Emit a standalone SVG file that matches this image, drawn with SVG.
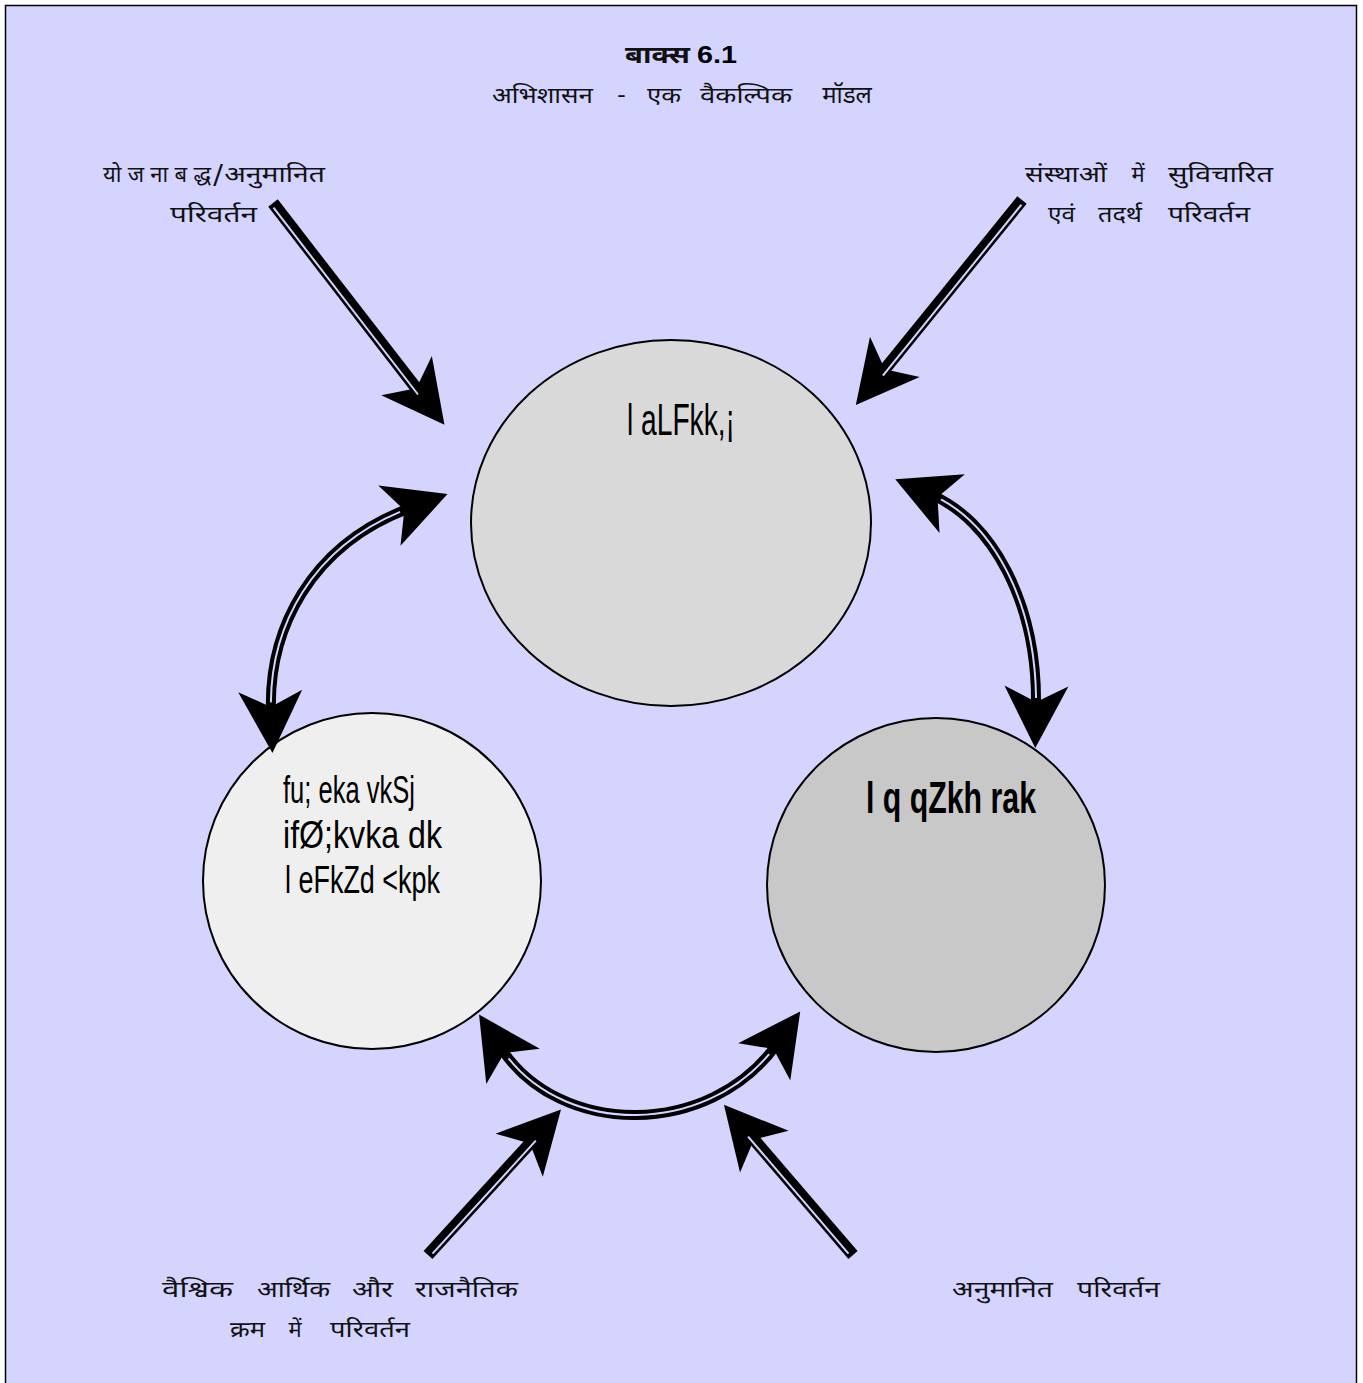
<svg xmlns="http://www.w3.org/2000/svg" width="1363" height="1383" viewBox="0 0 1363 1383">
<style>
.dev{font-family:"Noto Sans Devanagari","Noto Sans","Liberation Sans",sans-serif;font-size:22px;fill:#111;}
.kd{font-family:"Liberation Sans Narrow","Liberation Sans",sans-serif;fill:#000;}
.sh{fill:none;stroke:#000;stroke-width:12;}
.shc{fill:none;stroke:#000;stroke-width:10;}
.gap{fill:none;stroke:#D4D4FF;stroke-width:2;}
.node{stroke:#000;stroke-width:2;}
</style>
<defs>
<marker id="ah" markerUnits="userSpaceOnUse" orient="auto-start-reverse" refX="0" refY="0" markerWidth="10" markerHeight="10" overflow="visible">
<path d="M40,0 L-22,-32 L-6,0 L-22,32 Z" fill="#000"/>
</marker>
</defs>
<rect x="5.5" y="5.5" width="1351" height="1400" fill="#D4D4FF" stroke="#000" stroke-width="1.5"/>
<g id="title">
<text x="625" y="63" class="dev" style="font-size:24px;font-weight:bold" textLength="65" lengthAdjust="spacingAndGlyphs">बाक्स</text>
<text x="697" y="63" style="font-family:'Liberation Sans',sans-serif;font-size:23px;font-weight:bold" textLength="40" lengthAdjust="spacingAndGlyphs">6.1</text>
<g class="dev">
<text x="492" y="103" textLength="101" lengthAdjust="spacingAndGlyphs">अभिशासन</text>
<text x="617" y="103" textLength="9" lengthAdjust="spacingAndGlyphs">-</text>
<text x="647" y="103" textLength="34" lengthAdjust="spacingAndGlyphs">एक</text>
<text x="700" y="103" textLength="92" lengthAdjust="spacingAndGlyphs">वैकल्पिक</text>
<text x="847" y="103" text-anchor="middle" style="font-size:24px">मॉडल</text>
</g>
</g>
<g id="node-top">
<ellipse class="node" cx="671" cy="523" rx="200" ry="183" fill="#D9D9D9"/>
<text class="kd" x="627" y="435" font-size="44" textLength="108" lengthAdjust="spacingAndGlyphs">l aLFkk,¡</text>
</g>
<g id="node-left">
<ellipse class="node" cx="372" cy="881" rx="169" ry="168" fill="#EFEFEF"/>
<text class="kd" x="283" y="803" font-size="38" textLength="132" lengthAdjust="spacingAndGlyphs">fu; eka vkSj</text>
<text class="kd" x="283" y="848" font-size="38" textLength="159" lengthAdjust="spacingAndGlyphs">ifØ;kvka dk</text>
<text class="kd" x="285" y="893" font-size="38" textLength="155" lengthAdjust="spacingAndGlyphs">l eFkZd &lt;kpk</text>
</g>
<g id="node-right">
<ellipse class="node" cx="936" cy="885" rx="169" ry="167" fill="#C8C8C8"/>
<text class="kd" x="866" y="813" font-size="44" font-weight="bold" textLength="170" lengthAdjust="spacingAndGlyphs">l q qZkh rak</text>
</g>
<g id="labels" class="dev">
<text x="103" y="182" textLength="108">योजनाबद्ध</text>
<text x="212" y="182" textLength="113" lengthAdjust="spacingAndGlyphs">/अनुमानित</text>
<text x="170" y="222" textLength="87" lengthAdjust="spacingAndGlyphs">परिवर्तन</text>
<text x="1025" y="182" textLength="82" lengthAdjust="spacingAndGlyphs">संस्थाओं</text>
<text x="1138" y="182" text-anchor="middle">में</text>
<text x="1168" y="182" textLength="105" lengthAdjust="spacingAndGlyphs">सुविचारित</text>
<text x="1048" y="222" textLength="27" lengthAdjust="spacingAndGlyphs">एवं</text>
<text x="1098" y="222" textLength="44" lengthAdjust="spacingAndGlyphs">तदर्थ</text>
<text x="1168" y="222" textLength="82" lengthAdjust="spacingAndGlyphs">परिवर्तन</text>
<text x="162" y="1297" textLength="71" lengthAdjust="spacingAndGlyphs">वैश्विक</text>
<text x="257" y="1297" textLength="73" lengthAdjust="spacingAndGlyphs">आर्थिक</text>
<text x="352" y="1297" textLength="41" lengthAdjust="spacingAndGlyphs">और</text>
<text x="415" y="1297" textLength="103" lengthAdjust="spacingAndGlyphs">राजनैतिक</text>
<text x="230" y="1337" textLength="35" lengthAdjust="spacingAndGlyphs">क्रम</text>
<text x="295" y="1337" text-anchor="middle">में</text>
<text x="330" y="1337" textLength="80" lengthAdjust="spacingAndGlyphs">परिवर्तन</text>
<text x="952" y="1297" textLength="101" lengthAdjust="spacingAndGlyphs">अनुमानित</text>
<text x="1077" y="1297" textLength="83" lengthAdjust="spacingAndGlyphs">परिवर्तन</text>
</g>
<g id="connectors">
<path class="sh" d="M273,203 L420,393" marker-end="url(#ah)"/>
<path class="gap" d="M273.5,207.7 L418,394.5"/>
<path class="sh" d="M1022,200 L881,374" marker-end="url(#ah)"/>
<path class="gap" d="M1021.4,204.7 L882.9,375.6"/>
<path class="sh" d="M428,1255 L534,1139" marker-end="url(#ah)"/>
<path class="gap" d="M432.5,1253.7 L535.8,1140.7"/>
<path class="sh" d="M853,1255 L750,1135" marker-end="url(#ah)"/>
<path class="gap" d="M848.5,1253.6 L748.1,1136.6"/>
<path class="shc" d="M271,713 C268,630 310,545 410,508" marker-start="url(#ah)" marker-end="url(#ah)"/>
<path class="gap" d="M271,713 C268,630 310,545 410,508" pathLength="100" stroke-dasharray="0 4 92 100"/>
<path class="shc" d="M932,495 C990,520 1038,600 1036,708" marker-start="url(#ah)" marker-end="url(#ah)"/>
<path class="gap" d="M932,495 C990,520 1038,600 1036,708" pathLength="100" stroke-dasharray="0 4 92 100"/>
<path class="shc" d="M501,1048 C560,1138 710,1138 777,1044" marker-start="url(#ah)" marker-end="url(#ah)"/>
<path class="gap" d="M501,1048 C560,1138 710,1138 777,1044" pathLength="100" stroke-dasharray="0 4 92 100"/>
</g>
</svg>
